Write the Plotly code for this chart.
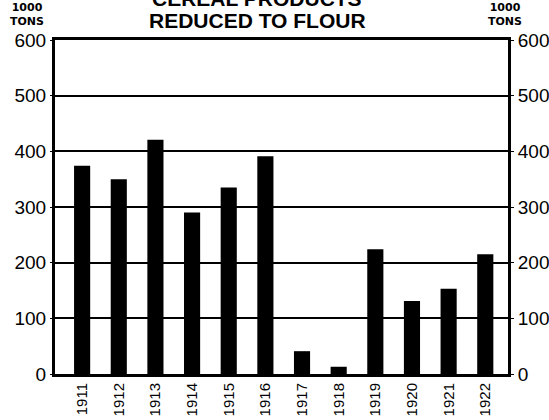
import plotly.graph_objects as go

years = ["1911", "1912", "1913", "1914", "1915", "1916",
         "1917", "1918", "1919", "1920", "1921", "1922"]
flour = [374, 350, 421, 290, 335, 391, 41, 13, 224, 131, 153, 215]
y_ticks = [0, 100, 200, 300, 400, 500, 600]

FONT = "Liberation Sans"
UNIT_FONT = "DejaVu Sans"

fig = go.Figure()
fig.add_trace(go.Bar(x=years, y=flour, width=0.44,
                     marker=dict(color="black", line=dict(width=0)),
                     showlegend=False))
# invisible trace to drive the right-hand axis
fig.add_trace(go.Scatter(x=years, y=flour, yaxis="y2", mode="markers",
                         marker=dict(opacity=0), showlegend=False,
                         hoverinfo="skip"))

fig.update_layout(
    width=549, height=420,
    margin=dict(l=55, r=41, t=40, b=46, autoexpand=False),
    paper_bgcolor="white", plot_bgcolor="white",
    font=dict(family=FONT, color="black"),
    xaxis=dict(type="category", range=[-0.74, 11.62], automargin=False,
               tickangle=-90, tickfont=dict(size=15, family=FONT),
               showline=True, linecolor="black", linewidth=3, mirror=True,
               showgrid=False, ticks="", fixedrange=True),
    yaxis=dict(range=[0, 600], tickvals=y_ticks, automargin=False,
               tickfont=dict(size=19, family=FONT),
               showline=True, linecolor="black", linewidth=3,
               showgrid=True, gridcolor="black", gridwidth=1.5,
               zeroline=False, ticks="outside", ticklen=2, tickcolor="black"),
    yaxis2=dict(range=[0, 600], tickvals=y_ticks, overlaying="y", side="right",
                automargin=False, tickfont=dict(size=19, family=FONT),
                showline=True, linecolor="black", linewidth=3,
                showgrid=False, zeroline=False, ticks="outside", ticklen=3,
                tickcolor="black"),
)

H = 334.0  # plot-area height in px


def py(pix):
    return (374 - pix) / H


def px(pix):
    return (pix - 55) / 453.0


fig.add_annotation(text="<b>CEREAL PRODUCTS</b>", xref="paper", yref="paper",
                   x=px(257), y=py(-1), xanchor="center",
                   yanchor="middle", showarrow=False,
                   font=dict(size=21, family=FONT))
fig.add_annotation(text="<b>REDUCED TO FLOUR</b>", xref="paper", yref="paper",
                   x=px(257), y=py(21), xanchor="center",
                   yanchor="middle", showarrow=False,
                   font=dict(size=21, family=FONT))

for x_pix, anchor in [(27, "center"), (487, "left")]:
    fig.add_annotation(text="<b>1000<br>TONS</b>", xref="paper", yref="paper",
                       x=px(x_pix), y=py(14.5), xanchor=anchor,
                       yanchor="middle", showarrow=False, borderpad=0,
                       align="center", font=dict(size=11, family=UNIT_FONT))

fig.write_html("out.html", config={"displayModeBar": False},
               post_script="document.body.style.margin='0';"
                           "document.body.style.overflow='hidden';")
